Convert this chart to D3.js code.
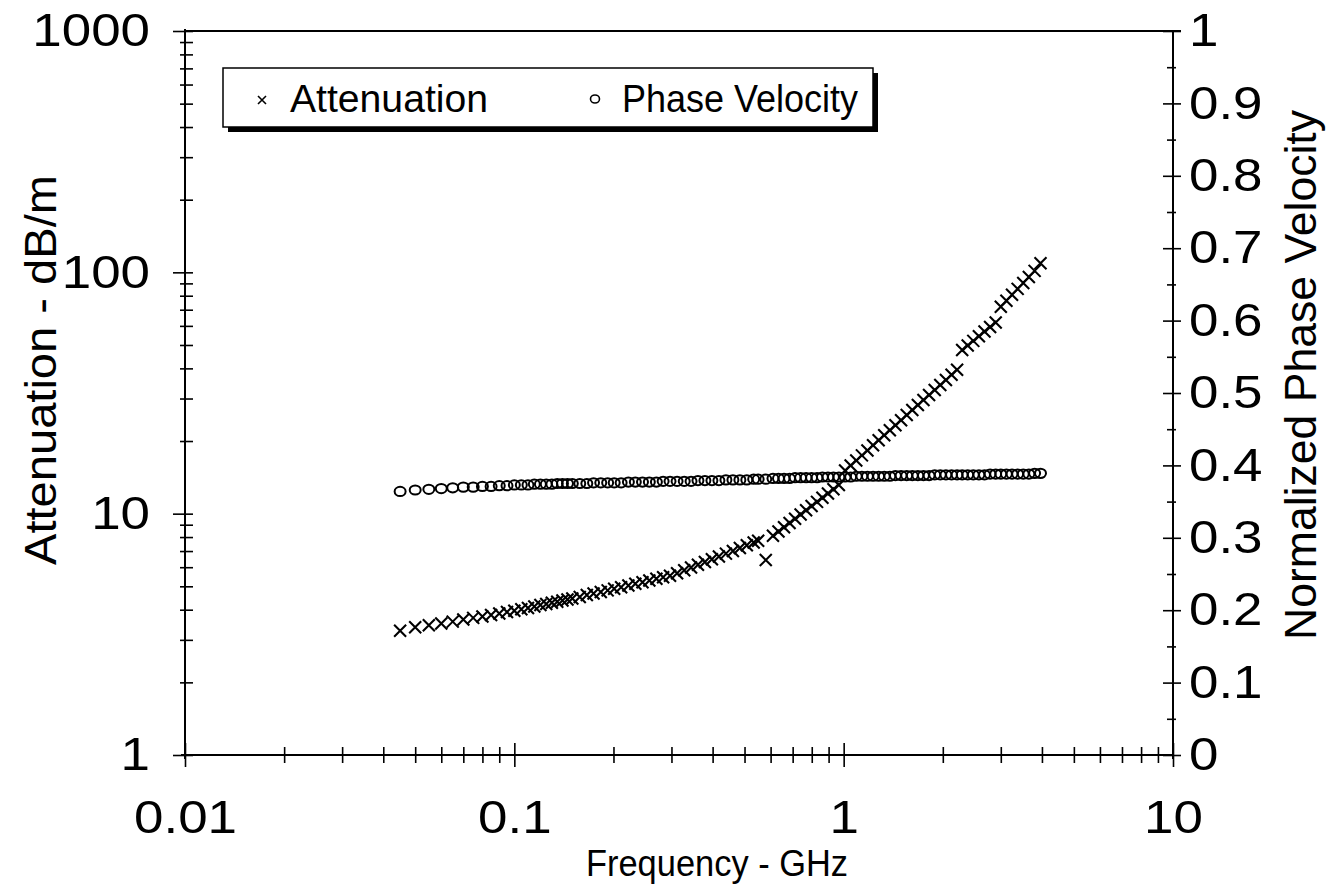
<!DOCTYPE html>
<html><head><meta charset="utf-8">
<script src="https://cdn.jsdelivr.net/npm/d3@7"></script>
<style>body{margin:0;background:#fff}</style>
</head><body><svg id="c" width="1328" height="884"></svg>
<script>
// ---- data ----
const freqGHz = [
  0.045,0.05,0.055,0.06,0.065,0.07,0.075,0.08,0.085,0.09,0.095,0.1,0.105,0.11,0.115,0.12,0.125,0.13,0.135,0.14,0.145,0.15,
  0.158,0.166,0.174,0.183,0.192,0.201,0.211,0.222,0.233,0.245,0.257,0.27,0.283,0.297,0.312,0.328,0.344,0.361,0.379,0.398,0.418,0.439,0.461,0.484,0.508,0.533,0.55,
  0.58,
  0.61,0.634,0.659,0.685,0.712,0.74,0.769,0.799,0.83,0.862,0.896,0.931,0.967,
  1.01,1.05,1.092,1.136,1.181,1.228,1.277,1.328,1.381,1.436,1.494,1.554,1.616,1.68,1.747,1.817,1.89,1.965,2.044,2.126,2.21,
  2.29,2.38,2.475,2.574,2.677,2.784,2.895,3.0,3.12,3.245,3.375,3.51,3.65,3.8,3.96
];
const attenuation = [
  3.27,3.38,3.45,3.51,3.57,3.64,3.70,3.75,3.80,3.86,3.91,3.96,4.02,4.07,4.12,4.18,4.22,4.27,4.32,4.37,4.41,4.45,
  4.52,4.60,4.67,4.74,4.81,4.89,4.96,5.04,5.12,5.20,5.28,5.37,5.45,5.53,5.66,5.83,5.98,6.14,6.30,6.47,6.65,6.83,7.01,7.20,7.40,7.59,7.72,
  6.42,
  8.10,8.43,8.78,9.15,9.53,9.92,10.33,10.75,11.19,11.65,12.13,12.63,13.14,
  15.10,15.84,16.62,17.44,18.29,19.19,20.13,21.12,22.16,23.25,24.40,25.61,26.87,28.18,29.56,31.02,32.55,34.14,35.83,37.61,39.44,
  47.7,49.8,52.0,54.4,56.8,59.4,62.0,72.0,76.2,80.7,85.4,90.4,95.7,101.4,109.0
];
const phaseVelocity = [
  0.364,0.366,0.367,0.368,0.369,0.370,0.370,0.371,0.371,0.372,0.372,0.373,0.373,0.373,0.374,0.374,0.374,0.374,0.375,0.375,0.375,0.375,
  0.375,0.375,0.376,0.376,0.376,0.376,0.376,0.377,0.377,0.377,0.377,0.377,0.378,0.378,0.378,0.378,0.378,0.379,0.379,0.379,0.379,0.380,0.380,0.380,0.380,0.381,0.381,
  0.381,
  0.382,0.382,0.382,0.382,0.383,0.383,0.383,0.383,0.383,0.384,0.384,0.384,0.384,
  0.384,0.384,0.385,0.385,0.385,0.385,0.385,0.385,0.385,0.386,0.386,0.386,0.386,0.386,0.386,0.386,0.387,0.387,0.387,0.387,0.387,
  0.387,0.387,0.387,0.387,0.387,0.388,0.388,0.388,0.388,0.388,0.388,0.388,0.388,0.389,0.389
];
const xMajorTicks = [0.01, 0.1, 1, 10];
const xTickLabels = ["0.01", "0.1", "1", "10"];
const yLeftMajorTicks = [1, 10, 100, 1000];
const yLeftTickLabels = ["1", "10", "100", "1000"];
const yRightMajorTicks = [0,0.1,0.2,0.3,0.4,0.5,0.6,0.7,0.8,0.9,1];
const yRightTickLabels = ["0","0.1","0.2","0.3","0.4","0.5","0.6","0.7","0.8","0.9","1"];
const seriesNames = ["Attenuation", "Phase Velocity"];
const xTitle = "Frequency - GHz";
const yLeftTitle = "Attenuation - dB/m";
const yRightTitle = "Normalized Phase Velocity";

// ---- layout ----
const L = 185, R = 1173, T = 31, B = 755;
const svg = d3.select("#c");
const x = d3.scaleLog().domain([0.01, 10]).range([L, R]);
const yL = d3.scaleLog().domain([1, 1000]).range([B, T]);
const yR = d3.scaleLinear().domain([0, 1]).range([B, T]);

const logMinor = (lo, hi) => {
  const out = [];
  for (let d = lo; d < hi * 0.999; d *= 10) for (let k = 2; k <= 9; k++) out.push(d * k);
  return out;
};
const xMinor = logMinor(0.01, 10);
const yLMinor = logMinor(1, 1000);
const yRMinor = d3.range(0.05, 1, 0.1);

const FONT = "'Liberation Sans', Arial, Helvetica, sans-serif";
const TICK_FS = 46, TICK_STRETCH = 1.15;

function styleAxis(g) {
  g.select(".domain").remove();
  g.selectAll(".tick line").attr("stroke", "#000").attr("stroke-width", 1.6);
}
function drawAx(axisGen, transform, values, size, labels) {
  const g = svg.append("g").attr("transform", transform)
    .call(axisGen.tickValues(values).tickSize(size).tickPadding(14)
      .tickFormat(labels ? (d, i) => labels[i] : () => ""));
  styleAxis(g);
  g.selectAll("text").attr("font-family", FONT).attr("font-size", TICK_FS).attr("fill", "#000");
  return g;
}
function stretch(g) {
  g.selectAll("text").each(function () {
    const w = this.getComputedTextLength();
    if (w > 0) d3.select(this).attr("textLength", w * TICK_STRETCH).attr("lengthAdjust", "spacingAndGlyphs");
  });
}
// bottom axis: crossing ticks
drawAx(d3.axisBottom(x), `translate(0,${B})`, xMinor, 8, null);
drawAx(d3.axisTop(x), `translate(0,${B})`, xMinor, 8, null);
drawAx(d3.axisTop(x), `translate(0,${B})`, xMajorTicks, 12, null);
const gx = drawAx(d3.axisBottom(x), `translate(0,${B})`, xMajorTicks, 12, xTickLabels);
gx.selectAll("text").attr("dy", "0.71em").attr("y", 45);
stretch(gx);

// left axis
drawAx(d3.axisLeft(yL), `translate(${L},0)`, yLMinor, 5, null);
drawAx(d3.axisRight(yL), `translate(${L},0)`, yLMinor, 8, null);
drawAx(d3.axisRight(yL), `translate(${L},0)`, yLeftMajorTicks, 8, null);
const gl = drawAx(d3.axisLeft(yL), `translate(${L},0)`, yLeftMajorTicks, 12, yLeftTickLabels);
gl.selectAll("text").attr("x", -35);
stretch(gl);

// right axis
drawAx(d3.axisLeft(yR), `translate(${R},0)`, yRMinor, 6, null);
drawAx(d3.axisRight(yR), `translate(${R},0)`, yRMinor, 3, null);
drawAx(d3.axisLeft(yR), `translate(${R},0)`, yRightMajorTicks, 10, null);
const gr = drawAx(d3.axisRight(yR), `translate(${R},0)`, yRightMajorTicks, 8, yRightTickLabels);
gr.selectAll("text").attr("x", 16);
stretch(gr);

// frame lines
const frame = svg.append("g").attr("stroke", "#000").attr("stroke-width", 2).attr("fill", "none");
frame.append("line").attr("x1", L).attr("x2", R + 8).attr("y1", T).attr("y2", T);
frame.append("line").attr("x1", L).attr("x2", L).attr("y1", T - 2).attr("y2", B + 4);
frame.append("line").attr("x1", R).attr("x2", R).attr("y1", T).attr("y2", B + 4);
frame.append("line").attr("x1", L - 4).attr("x2", R).attr("y1", B).attr("y2", B);

// data
const pts = freqGHz.map((f, i) => ({ f, a: attenuation[i], v: phaseVelocity[i] }));
svg.append("g").selectAll("ellipse").data(pts).join("ellipse")
  .attr("cx", d => x(d.f)).attr("cy", d => yR(d.v))
  .attr("rx", 5.5).attr("ry", 4.6)
  .attr("fill", "none").attr("stroke", "#000").attr("stroke-width", 2);
const cross = "M-6,-6L6,6M-6,6L6,-6";
svg.append("g").selectAll("path").data(pts).join("path")
  .attr("transform", d => `translate(${x(d.f)},${yL(d.a)})`)
  .attr("d", cross).attr("stroke", "#000").attr("stroke-width", 2.1).attr("fill", "none");

// legend
const lg = svg.append("g");
lg.append("rect").attr("x", 228).attr("y", 73).attr("width", 650).attr("height", 59).attr("fill", "#000");
lg.append("rect").attr("x", 223).attr("y", 68).attr("width", 650).attr("height", 59)
  .attr("fill", "#fff").attr("stroke", "#000").attr("stroke-width", 1.5);
lg.append("path").attr("d", "M-4,-4L4,4M-4,4L4,-4").attr("transform", "translate(262,100)")
  .attr("stroke", "#000").attr("stroke-width", 1.6);
lg.append("ellipse").attr("cx", 595).attr("cy", 99).attr("rx", 4.5).attr("ry", 4)
  .attr("fill", "none").attr("stroke", "#000").attr("stroke-width", 1.6);
lg.append("text").attr("x", 290).attr("y", 112).text(seriesNames[0])
  .attr("font-family", FONT).attr("font-size", 38).attr("textLength", 198).attr("lengthAdjust", "spacingAndGlyphs");
lg.append("text").attr("x", 622).attr("y", 112).text(seriesNames[1])
  .attr("font-family", FONT).attr("font-size", 38).attr("textLength", 236).attr("lengthAdjust", "spacingAndGlyphs");

// titles
svg.append("text").attr("x", 717).attr("y", 876).attr("text-anchor", "middle")
  .attr("font-family", FONT).attr("font-size", 36).text(xTitle)
  .attr("textLength", 262).attr("lengthAdjust", "spacingAndGlyphs");
svg.append("text").attr("transform", "translate(56,370) rotate(-90)").attr("text-anchor", "middle")
  .attr("font-family", FONT).attr("font-size", 44).text(yLeftTitle)
  .attr("textLength", 390).attr("lengthAdjust", "spacingAndGlyphs");
svg.append("text").attr("transform", "translate(1316,375) rotate(-90)").attr("text-anchor", "middle")
  .attr("font-family", FONT).attr("font-size", 44).text(yRightTitle)
  .attr("textLength", 530).attr("lengthAdjust", "spacingAndGlyphs");
</script></body></html>
